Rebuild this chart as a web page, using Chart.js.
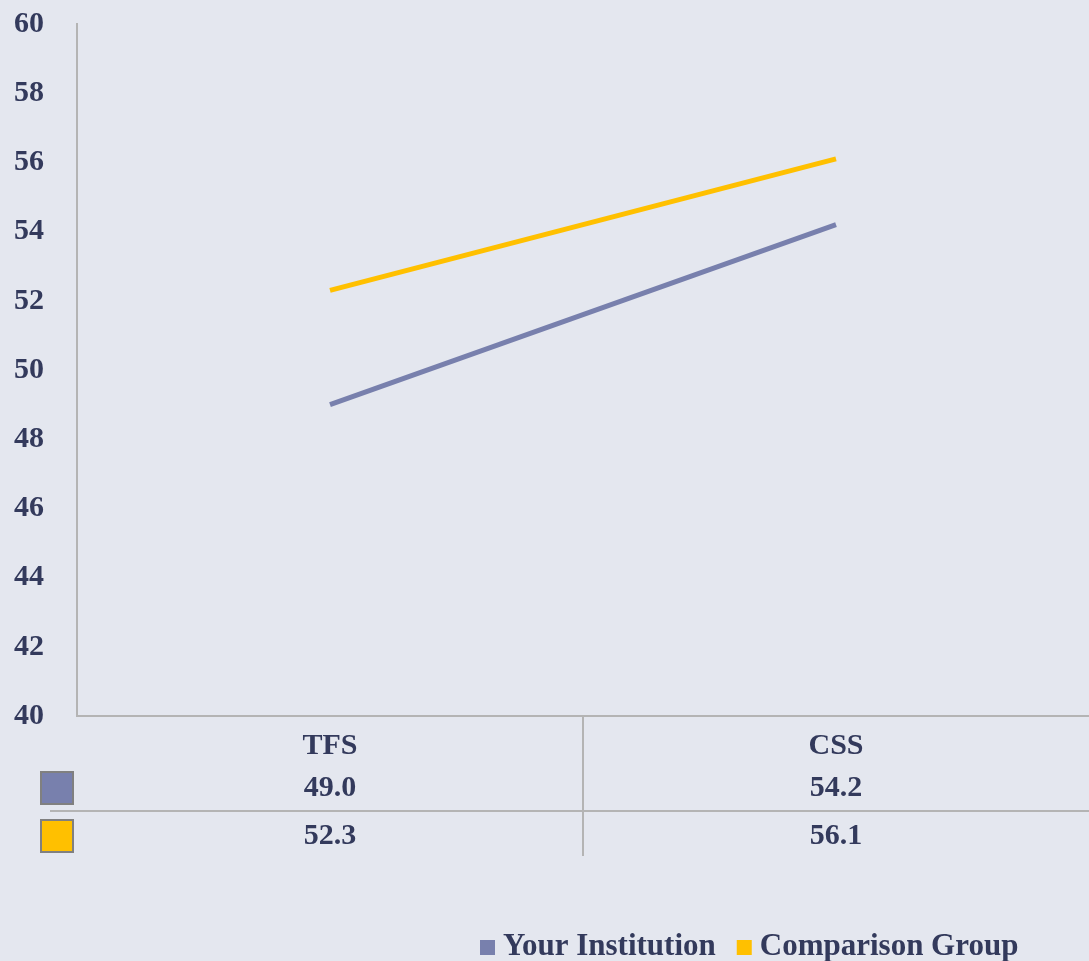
<!DOCTYPE html>
<html>
<head>
<meta charset="utf-8">
<script src="https://cdn.jsdelivr.net/npm/chart.js@4.4.0/dist/chart.umd.min.js"></script>
<style>
  html, body { margin: 0; padding: 0; background: #e4e7ef; }
  #wrap { width: 1089px; height: 961px; position: relative; }
</style>
</head>
<body>
<div id="wrap"><canvas id="chart"></canvas></div>
<script>
const categories = ['TFS', 'CSS'];
const seriesNames = ['Your Institution', 'Comparison Group'];
const yourInstitution = [49.0, 54.2];
const comparisonGroup = [52.3, 56.1];
const seriesColors = ['#7880ad', '#ffc000'];

const textColor = '#333a5c';
const lineGrey = '#b4b4b4';
const fontFamily = '"Liberation Serif", "Times New Roman", serif';

// draws the data table under the x axis and the legend at the bottom
const tablePlugin = {
    id: 'dataTable',
    afterDraw(chart) {
        const ctx = chart.ctx;
        const x = chart.scales.x;
        const area = chart.chartArea;
        const rows = [yourInstitution, comparisonGroup];
        const rowY = [788, 836];

        ctx.save();
        ctx.strokeStyle = lineGrey;
        ctx.lineWidth = 2;
        // line between the two rows
        ctx.beginPath();
        ctx.moveTo(50, 811);
        ctx.lineTo(area.right, 811);
        ctx.stroke();
        // divider between the categories
        const mid = (x.getPixelForValue(0) + x.getPixelForValue(1)) / 2;
        ctx.beginPath();
        ctx.moveTo(mid, area.bottom);
        ctx.lineTo(mid, 856);
        ctx.stroke();

        ctx.font = 'bold 30px ' + fontFamily;
        ctx.textAlign = 'center';
        ctx.textBaseline = 'middle';
        rows.forEach((vals, r) => {
            vals.forEach((v, i) => {
                ctx.fillStyle = textColor;
                ctx.fillText(v.toFixed(1), x.getPixelForValue(i), rowY[r]);
            });
            // legend key box in the table
            ctx.fillStyle = seriesColors[r];
            ctx.fillRect(41, rowY[r] - 16, 32, 32);
            ctx.strokeStyle = '#808080';
            ctx.lineWidth = 2;
            ctx.strokeRect(41, rowY[r] - 16, 32, 32);
        });

        // bottom legend
        let lx = 480;
        const ly = 947;
        ctx.font = 'bold 31px ' + fontFamily;
        ctx.textAlign = 'left';
        seriesNames.forEach((name, i) => {
            ctx.fillStyle = seriesColors[i];
            ctx.fillRect(lx, ly - 7, 15, 15);
            ctx.fillStyle = textColor;
            ctx.fillText(name, lx + 23, ly);
            lx += 23 + ctx.measureText(name).width + 21;
        });
        ctx.restore();
    }
};

new Chart(document.getElementById('chart'), {
    type: 'line',
    data: {
        labels: categories,
        datasets: [
            {
                label: seriesNames[0],
                data: yourInstitution,
                borderColor: seriesColors[0],
                borderWidth: 5,
                pointRadius: 0,
                fill: false
            },
            {
                label: seriesNames[1],
                data: comparisonGroup,
                borderColor: seriesColors[1],
                borderWidth: 5,
                pointRadius: 0,
                fill: false
            }
        ]
    },
    options: {
        responsive: true,
        maintainAspectRatio: false,
        animation: false,
        layout: { padding: { top: 24, right: 0, left: 0, bottom: 0 } },
        plugins: {
            legend: { display: false },
            tooltip: { enabled: false }
        },
        scales: {
            x: {
                offset: true,
                grid: { display: false, drawTicks: false },
                border: { color: lineGrey, width: 2 },
                ticks: {
                    color: textColor,
                    padding: 12,
                    font: { family: fontFamily, size: 30, weight: 'bold' }
                },
                afterFit(scale) { scale.height = 245; }
            },
            y: {
                min: 40,
                max: 60,
                grid: { display: false, drawTicks: false },
                border: { color: lineGrey, width: 2 },
                ticks: {
                    stepSize: 2,
                    color: textColor,
                    padding: 33,
                    font: { family: fontFamily, size: 30, weight: 'bold' }
                },
                afterFit(scale) {
                    scale.width = 77;
                    scale.paddingTop = 0;
                    scale.paddingBottom = 0;
                }
            }
        }
    },
    plugins: [tablePlugin]
});
</script>
</body>
</html>
